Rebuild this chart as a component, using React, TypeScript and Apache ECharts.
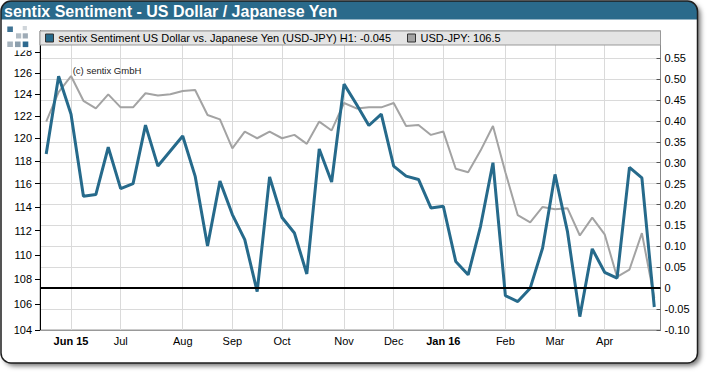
import React, { useEffect, useRef } from 'react';
import * as echarts from 'echarts';

// Weekly observation dates (Fridays)
const dates = [
  '2015-05-22', '2015-05-29', '2015-06-05', '2015-06-12', '2015-06-19', '2015-06-26',
  '2015-07-03', '2015-07-10', '2015-07-17', '2015-07-24', '2015-07-31',
  '2015-08-07', '2015-08-14', '2015-08-21', '2015-08-28',
  '2015-09-04', '2015-09-11', '2015-09-18', '2015-09-25',
  '2015-10-02', '2015-10-09', '2015-10-16', '2015-10-23', '2015-10-30',
  '2015-11-06', '2015-11-13', '2015-11-20', '2015-11-27',
  '2015-12-04', '2015-12-11', '2015-12-18', '2015-12-25',
  '2016-01-01', '2016-01-08', '2016-01-15', '2016-01-22', '2016-01-29',
  '2016-02-05', '2016-02-12', '2016-02-19', '2016-02-26',
  '2016-03-04', '2016-03-11', '2016-03-18', '2016-03-25',
  '2016-04-01', '2016-04-08', '2016-04-15', '2016-04-22', '2016-04-29',
];

// sentix Sentiment H1 (right axis)
const sentiment = [
  0.321, 0.507, 0.416, 0.220, 0.224, 0.337, 0.238, 0.250, 0.390, 0.292,
  0.328, 0.364, 0.268, 0.101, 0.256, 0.176, 0.116, -0.008, 0.266, 0.169,
  0.132, 0.034, 0.333, 0.254, 0.488, 0.440, 0.389, 0.416, 0.292, 0.268,
  0.260, 0.192, 0.196, 0.064, 0.032, 0.148, 0.300, -0.018, -0.032, 0.000,
  0.096, 0.272, 0.136, -0.068, 0.094, 0.038, 0.024, 0.289, 0.264, -0.045,
];

// USD-JPY (left, logarithmic axis)
const usdjpy = [
  121.5, 124.2, 125.7, 123.4, 122.7, 124.0, 122.8, 122.8, 124.1, 123.9,
  124.0, 124.3, 124.4, 122.1, 121.7, 119.1, 120.6, 120.0, 120.6, 120.0,
  120.3, 119.5, 121.5, 120.7, 123.2, 122.7, 122.8, 122.8, 123.2, 121.1,
  121.2, 120.3, 120.6, 117.3, 117.0, 118.9, 121.1, 117.0, 113.3, 112.7,
  114.0, 113.8, 113.9, 111.6, 113.1, 111.7, 108.2, 108.8, 111.8, 106.5,
];

const monthTickDates = [
  '2015-06-05', '2015-07-03', '2015-08-07', '2015-09-04', '2015-10-02', '2015-11-06',
  '2015-12-04', '2016-01-01', '2016-02-05', '2016-03-04', '2016-04-01',
];
const monthTickLabels = ['Jun 15', 'Jul', 'Aug', 'Sep', 'Oct', 'Nov', 'Dec', 'Jan 16', 'Feb', 'Mar', 'Apr'];

const leftTicks = [104, 106, 108, 110, 112, 114, 116, 118, 120, 122, 124, 126, 128];
const leftMin = 104;
const leftMax = 130;
const rightTicks = [-0.1, -0.05, 0, 0.05, 0.1, 0.15, 0.2, 0.25, 0.3, 0.35, 0.4, 0.45, 0.5, 0.55];
const rightMin = -0.1;
const rightMax = 0.615;

const SENT_NAME = 'sentix Sentiment US Dollar vs. Japanese Yen (USD-JPY)';
const FX_NAME = 'USD-JPY';

const BLUE = '#266a8b';
const GRAY = '#a3a3a3';
const FONT = '"Liberation Sans", Arial, Helvetica, sans-serif';
const DAY = 86400000;

const toTs = (s: string) => {
  const [y, m, d] = s.split('-').map(Number);
  return Date.UTC(y, m - 1, d);
};

const dateTs = dates.map(toTs);
const monthTicks = monthTickDates.map(toTs);

function buildOption(): any {
  return {
    animation: false,
    textStyle: { fontFamily: FONT },
    grid: {
      left: 40,
      right: 49.5,
      top: 31,
      bottom: 46,
      show: true,
      borderColor: '#999',
      borderWidth: 1,
      containLabel: false,
      outerBoundsMode: 'none',
    },
    legend: [
      {
        data: [SENT_NAME],
        left: 45,
        top: 32.5,
        padding: 0,
        itemWidth: 8,
        itemHeight: 8,
        icon: 'rect',
        selectedMode: false,
        itemStyle: { borderColor: '#333', borderWidth: 1 },
        textStyle: { fontSize: 11, color: '#000', fontFamily: FONT },
        formatter: (name: string) => `${name} H1: ${sentiment[sentiment.length - 1].toFixed(3)}`,
      },
      {
        data: [FX_NAME],
        left: 407,
        top: 32.5,
        padding: 0,
        itemWidth: 8,
        itemHeight: 8,
        icon: 'rect',
        selectedMode: false,
        itemStyle: { borderColor: '#333', borderWidth: 1 },
        textStyle: { fontSize: 11, color: '#000', fontFamily: FONT },
        formatter: (name: string) => `${name}: ${usdjpy[usdjpy.length - 1]}`,
      },
    ],
    xAxis: {
      type: 'value',
      min: dateTs[0] - 3.5 * DAY,
      max: dateTs[dateTs.length - 1] + 3.5 * DAY,
      axisLine: { show: true, onZero: false, lineStyle: { color: '#999', width: 1 } },
      axisTick: { show: false, customValues: monthTicks },
      splitLine: { show: true, lineStyle: { color: '#dadada', width: 1 } },
      axisLabel: {
        customValues: monthTicks,
        margin: 5,
        fontSize: 11,
        color: '#000',
        hideOverlap: false,
        formatter: (v: number) => {
          const i = monthTicks.findIndex((t) => Math.abs(t - v) < DAY / 2);
          const lab = i >= 0 ? monthTickLabels[i] : '';
          return lab.indexOf(' ') >= 0 ? `{b|${lab}}` : lab;
        },
        rich: { b: { fontWeight: 'bold', fontSize: 11, color: '#000', fontFamily: FONT } },
      },
    },
    yAxis: [
      {
        type: 'value',
        position: 'left',
        min: Math.log(leftMin),
        max: Math.log(leftMax),
        axisLine: { show: true, onZero: false, lineStyle: { color: '#000', width: 1 } },
        axisTick: {
          show: true,
          length: 5,
          customValues: leftTicks.map(Math.log),
          lineStyle: { color: '#000' },
        },
        axisLabel: {
          customValues: leftTicks.map(Math.log),
          margin: 8,
          fontSize: 11,
          color: '#000',
          formatter: (v: number) => String(Math.round(Math.exp(v))),
        },
        splitLine: { show: false },
      },
      {
        type: 'value',
        position: 'right',
        min: rightMin,
        max: rightMax,
        axisLine: { show: true, onZero: false, lineStyle: { color: '#888', width: 1 } },
        axisTick: {
          show: true,
          inside: true,
          length: 4,
          customValues: rightTicks,
          lineStyle: { color: '#555' },
        },
        axisLabel: {
          customValues: rightTicks,
          margin: 4,
          fontSize: 11,
          color: '#000',
          formatter: (v: number) => (Math.abs(v) < 1e-9 ? '0' : v.toFixed(2)),
        },
        splitLine: { show: true, lineStyle: { color: '#dadada', width: 1 } },
      },
    ],
    series: [
      {
        name: FX_NAME,
        type: 'line',
        yAxisIndex: 0,
        showSymbol: false,
        symbol: 'none',
        itemStyle: { color: GRAY },
        lineStyle: { color: GRAY, width: 2 },
        emphasis: { disabled: true },
        data: usdjpy.map((v, i) => [dateTs[i], Math.log(v)]),
      },
      {
        name: SENT_NAME,
        type: 'line',
        yAxisIndex: 1,
        showSymbol: false,
        symbol: 'none',
        itemStyle: { color: BLUE },
        lineStyle: { color: BLUE, width: 3 },
        emphasis: { disabled: true },
        data: sentiment.map((v, i) => [dateTs[i], v]),
        markLine: {
          silent: true,
          symbol: ['none', 'none'],
          label: { show: false },
          lineStyle: { color: '#000', width: 2, type: 'solid' },
          emphasis: { disabled: true },
          data: [{ yAxis: 0 }],
        },
      },
    ],
    graphic: [
      {
        type: 'rect',
        z: -10,
        silent: true,
        shape: { x: 1, y: 1, width: 696.5, height: 362, r: 10 },
        style: {
          fill: '#fff',
          shadowBlur: 5,
          shadowOffsetX: 3,
          shadowOffsetY: 3,
          shadowColor: 'rgba(0,0,0,0.55)',
        },
      },
      {
        type: 'rect',
        z: -9,
        silent: true,
        shape: { x: 1, y: 1, width: 696.5, height: 18.5, r: [10, 10, 0, 0] },
        style: { fill: '#2a6a8b' },
      },
      {
        type: 'text',
        z: 60,
        silent: true,
        x: 4,
        y: 11.5,
        style: {
          text: 'sentix Sentiment - US Dollar / Japanese Yen',
          fill: '#fff',
          font: `bold 16px ${FONT}`,
          verticalAlign: 'middle',
        },
      },
      {
        type: 'rect',
        z: 50,
        silent: true,
        shape: { x: 1, y: 1, width: 696.5, height: 362, r: 10 },
        style: { fill: 'none', stroke: '#1e1e1e', lineWidth: 1.5 },
      },
      {
        type: 'rect',
        z: 3,
        silent: true,
        shape: { x: 40, y: 31, width: 620.5, height: 14 },
        style: { fill: '#e4e4e4', stroke: '#999', lineWidth: 1 },
      },
      {
        type: 'rect',
        z: 10,
        silent: true,
        shape: { x: 2, y: 20, width: 36, height: 30.5 },
        style: { fill: '#fff' },
      },
      { type: 'rect', z: 11, silent: true, shape: { x: 7.3, y: 26.5, width: 5.6, height: 5.6 }, style: { fill: '#3f7394' } },
      { type: 'rect', z: 11, silent: true, shape: { x: 22.7, y: 26, width: 4.2, height: 4.2 }, style: { fill: '#cfd5da' } },
      { type: 'rect', z: 11, silent: true, shape: { x: 16, y: 33.3, width: 5.2, height: 5.2 }, style: { fill: '#b3bdc5' } },
      { type: 'rect', z: 11, silent: true, shape: { x: 22.7, y: 33.3, width: 5.2, height: 5.2 }, style: { fill: '#9eabb6' } },
      { type: 'rect', z: 11, silent: true, shape: { x: 7.3, y: 41.5, width: 5.6, height: 5.6 }, style: { fill: '#a6b3bd' } },
      { type: 'rect', z: 11, silent: true, shape: { x: 15, y: 41.5, width: 5.6, height: 5.6 }, style: { fill: '#8c9fad' } },
      { type: 'rect', z: 11, silent: true, shape: { x: 22.7, y: 41.5, width: 5.6, height: 5.6 }, style: { fill: '#2e6a8f' } },
      {
        type: 'text',
        z: 5,
        silent: true,
        x: 72.7,
        y: 70.7,
        style: {
          text: '(c) sentix GmbH',
          fill: '#222',
          font: `9.5px ${FONT}`,
          verticalAlign: 'middle',
        },
      },
    ],
  };
}

export default function App() {
  const ref = useRef<HTMLDivElement>(null);
  useEffect(() => {
    if (!ref.current) return;
    const chart = echarts.init(ref.current, null, { renderer: 'svg' });
    chart.setOption(buildOption());
    return () => {
      chart.dispose();
    };
  }, []);
  return (
    <div
      ref={ref}
      style={{ position: 'fixed', left: 0, top: 0, width: 710, height: 376, background: '#fff' }}
    />
  );
}
